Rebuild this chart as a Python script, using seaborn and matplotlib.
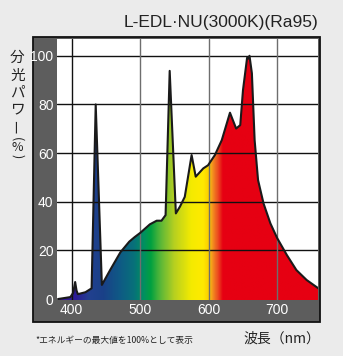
import numpy as np
import pandas as pd
import matplotlib
matplotlib.use("Agg")
import matplotlib.pyplot as plt
from matplotlib.colors import LinearSegmentedColormap
from matplotlib.patches import Polygon, Rectangle
import seaborn as sns

# Relative spectral power of the lamp (wavelength in nm, power in %)
wavelength = [380, 398, 402, 405, 407, 409, 420, 429, 435, 444, 456, 471, 484,
              492, 500, 514, 524, 531, 537, 543, 552, 558, 565, 575, 581, 592,
              599, 609, 619, 631, 640, 646, 650, 656, 657.5, 659.5, 663, 667,
              672, 680, 690, 700, 714, 728, 743, 760]
power = [0.0, 0.8, 2.5, 7.0, 3.5, 2.0, 2.8, 4.4, 80.0, 5.8, 11.9, 19.2, 23.6,
         25.5, 27.2, 30.7, 32.2, 32.2, 34.5, 93.8, 35.2, 38.0, 42.0, 59.2, 50.3,
         53.7, 55.0, 59.2, 65.3, 76.6, 70.1, 71.5, 85.9, 99.2, 98.8, 100.0, 92.8,
         65.3, 48.9, 39.3, 31.1, 25.0, 18.1, 11.9, 7.8, 4.4]

x_ticks = [400, 500, 600, 700]
y_ticks = [0, 20, 40, 60, 80, 100]

# Colour of the fill at each wavelength
band_nm = [380, 405, 425, 445, 470, 490, 505, 515, 530, 550, 575, 592, 600,
           606, 613, 621, 760]
band_colors = ["#3a1a9a", "#2c1c96", "#22408f", "#1a4088", "#0f5a85", "#08707a",
               "#009060", "#00a040", "#5cb838", "#b8d020", "#f5eb00", "#ffea00",
               "#fcd000", "#f39020", "#ec5020", "#e60012", "#e60012"]

title = "L-EDL·NU(3000K)(Ra95)"
ylabel_chars = ["分", "光", "パ", "ワ", "ー", "(", "%", ")"]
note = "*エネルギーの最大値を100%として表示"
xlabel = "波長（nm）"

W, H = 343, 356
X_MIN, X_MAX = 378.5, 759.5
Y_MIN, Y_MAX = -0.4, 106.9

sns.set_style("white")
plt.rcParams["font.family"] = ["Liberation Sans", "DejaVu Sans"]
JP = ["Noto Sans CJK JP", "DejaVu Sans"]

fig = plt.figure(figsize=(W / 100, H / 100), dpi=100)
fig.patch.set_facecolor("#ebebeb")


def fx(px):
    return px / W


def fy(py):
    return 1 - py / H


# dark frame behind the plot area and tick labels
fig.patches.append(Rectangle((fx(33), fy(322)), fx(320) - fx(33), fy(37) - fy(322),
                             transform=fig.transFigure, facecolor="#5d5d5d",
                             edgecolor="#111111", linewidth=1.3, zorder=-1))

ax = fig.add_axes([fx(57), fy(300), fx(318) - fx(57), fy(39) - fy(300)])
ax.set_facecolor("white")
ax.set_xlim(X_MIN, X_MAX)
ax.set_ylim(Y_MIN, Y_MAX)

# wavelength-coloured fill, clipped to the area under the spectrum
stops = [((b - X_MIN) / (X_MAX - X_MIN), c) for b, c in zip(band_nm, band_colors)]
stops[0] = (0.0, stops[0][1])
stops[-1] = (1.0, stops[-1][1])
cmap = LinearSegmentedColormap.from_list("spectrum", stops)
grad = np.linspace(X_MIN, X_MAX, 800)[None, :]
im = ax.imshow(grad, extent=[X_MIN, X_MAX, Y_MIN, Y_MAX], aspect="auto",
               cmap=cmap, vmin=X_MIN, vmax=X_MAX, origin="lower", zorder=1,
               interpolation="bilinear")
verts = np.column_stack([[wavelength[0]] + wavelength + [wavelength[-1]],
                         [Y_MIN] + power + [Y_MIN]])
clip = Polygon(verts, closed=True, facecolor="none", edgecolor="none",
               transform=ax.transData)
ax.add_patch(clip)
im.set_clip_path(clip)

# grid over the fill
for yv in y_ticks[1:]:
    ax.axhline(yv, color="#111111", lw=1.0, zorder=2)
for xv in x_ticks:
    ax.axvline(xv, color="#111111" if xv == 400 else "#6e6e6e", lw=1.0, zorder=2)

df = pd.DataFrame({"wavelength": wavelength, "power": power})
sns.lineplot(data=df, x="wavelength", y="power", color="#1a1a1a", lw=1.5,
             ax=ax, zorder=3)

ax.set_xticks(x_ticks)
ax.set_yticks(y_ticks)
ax.tick_params(length=0, colors="white", labelsize=10, pad=2.5)
ax.set_xlabel("")
ax.set_ylabel("")
for s in ax.spines.values():
    s.set_visible(False)

# title
fig.text(fx(318), fy(22), title, ha="right", va="center", fontsize=12.5,
         color="#222222", family=["Liberation Sans Narrow", "Liberation Sans", "DejaVu Sans"])

# vertical y-axis label, one character per line
ys = [58, 76, 93, 109.5, 125.5, 139, 147.5, 156.5]
for ch, yy in zip(ylabel_chars, ys):
    rot = 0
    size = 10.5
    if ch == "ー":
        rot = 90
    elif ch in "()":
        rot = -90
        size = 9.0
    elif ch == "%":
        size = 9.0
    fig.text(fx(17.3), fy(yy), ch, ha="center", va="center", fontsize=size,
             rotation=rot, color="#222222", family=JP)

fig.text(fx(35), fy(340), note, ha="left", va="center", fontsize=6.3,
         color="#222222", family=JP)
fig.text(fx(320), fy(339), xlabel, ha="right", va="center", fontsize=10,
         color="#222222", family=JP)

fig.savefig("out.png", dpi=100, facecolor=fig.get_facecolor())
